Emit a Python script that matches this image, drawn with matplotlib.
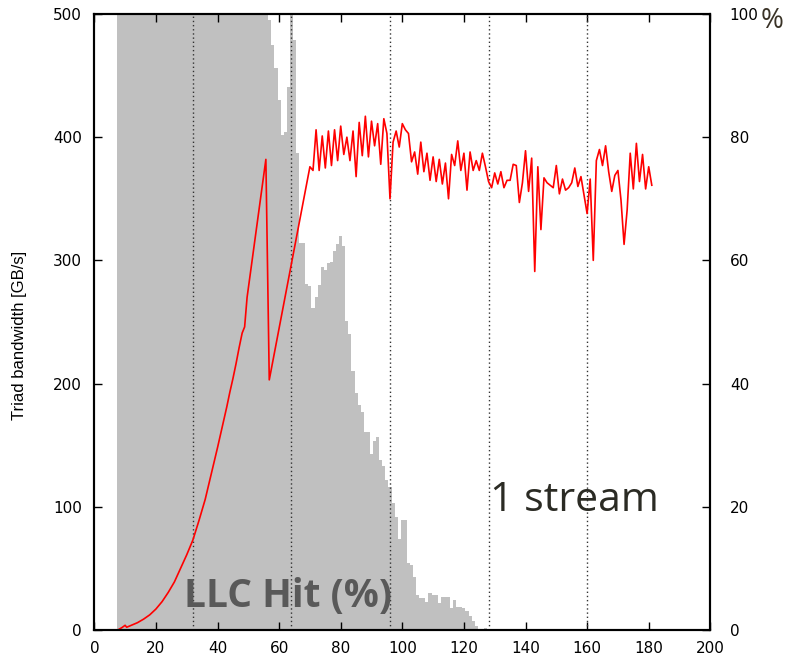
import numpy as np
import matplotlib
matplotlib.use("Agg")
import matplotlib.pyplot as plt

# histogram of LLC hit share (drawn on the bandwidth scale, clipped at the top)
hist_x = list(range(8, 128))
hist_full = [520] * (57 - 8)  # bins 8..56 run off the top
hist_tail = [495, 475, 456, 430, 402, 404, 441, 510, 479, 387,
             314, 314, 281, 279, 261, 270, 280, 295, 292, 298,
             299, 308, 313, 320, 312, 251, 240, 210, 192, 183,
             177, 161, 161, 143, 153, 157, 138, 133, 122, 116,
             103, 92, 74, 89, 89, 54, 53, 43, 28, 26,
             26, 23, 30, 28, 28, 22, 27, 27, 27, 18,
             24, 19, 19, 18, 15, 11, 7, 3, 0, 0, 1.5]
hist_y = hist_full + hist_tail

# triad bandwidth curve
head_x = [8, 9, 10, 10.5, 12, 14, 16, 18, 20, 22, 24, 26, 28, 30, 32, 34, 36, 38,
          40, 42, 43, 44, 45, 46, 47, 48, 48.8, 49.6, 55.7, 56.8]
head_y = [0.5, 2, 3.8, 2.2, 3.8, 5.9, 8.8, 12.3, 17, 23, 30.5, 39, 50, 61, 73, 89, 106, 127,
          148, 170, 181, 193, 204, 216, 229, 241, 246, 270, 382, 203]
tail_x = list(range(70, 182))
tail_y = [376, 373, 406, 373, 401, 375, 405, 377, 406, 381,
          409, 386, 400, 381, 405, 368, 412, 385, 417, 384,
          413, 393, 411, 378, 415, 403, 350, 396, 405, 392,
          411, 406, 403, 380, 388, 370, 396, 372, 387, 365,
          384, 364, 382, 362, 379, 350, 386, 377, 397, 373,
          387, 357, 388, 373, 381, 373, 387, 376, 364, 359,
          371, 362, 372, 359, 365, 365, 378, 377, 347, 363,
          389, 356, 383, 291, 376, 325, 367, 363, 361, 359,
          377, 354, 366, 357, 359, 363, 375, 360, 368, 353,
          338, 366, 300, 381, 390, 377, 393, 372, 356, 369,
          373, 349, 313, 341, 387, 358, 395, 364, 386, 358,
          376, 361]
bw_x = head_x + tail_x
bw_y = head_y + tail_y

vlines = [32, 64, 96, 128, 160]
x_ticks = list(range(0, 201, 20))
y_ticks = list(range(0, 501, 100))
pct_ticks = list(range(0, 101, 20))

plt.rcParams['font.family'] = ['DejaVu Sans']

fig = plt.figure(figsize=(7.86, 6.6), dpi=100)
ax = fig.add_axes([0.1200, 0.0455, 0.7837, 0.9333])

ax.bar(hist_x, hist_y, width=1.0, color='#c0c0c0', linewidth=0, zorder=1)
for v in vlines:
    ax.axvline(v, color='#333333', linestyle=(0, (1, 2)), linewidth=1.0, zorder=2)
ax.plot(bw_x, bw_y, color='red', linewidth=1.2, zorder=3)

ax.set_xlim(0, 200)
ax.set_ylim(0, 500)
ax.set_xticks(x_ticks)
ax.set_yticks(y_ticks)
ax.tick_params(axis='both', direction='in', length=6, width=1, labelsize=11)
ax.tick_params(axis='x', top=True, pad=8)
ax.tick_params(axis='y', pad=9)
ax.set_ylabel('Triad bandwidth [GB/s]', fontsize=12, family='Liberation Sans')
ax.yaxis.set_label_coords(-0.11, 0.478)
for s in ax.spines.values():
    s.set_linewidth(1.5)

ax2 = ax.twinx()
ax2.set_ylim(0, 100)
ax2.set_yticks(pct_ticks)
ax2.tick_params(axis='y', direction='in', length=6, width=1, labelsize=11, pad=14)
for s in ax2.spines.values():
    s.set_linewidth(1.5)

fig.text(0.982, 0.968, '%', fontsize=20, color='#3a3327', ha='center', va='center',
         family='Open Sans')

ax.text(62.9, 27, 'LLC Hit (%)', fontsize=28, fontweight='bold', color='#595959',
        ha='center', va='center', family='Open Sans', zorder=4)
ax.text(156, 105, '1 stream', fontsize=29.5, color='#2b2b24',
        ha='center', va='center', family='Open Sans', zorder=4)

fig.savefig('out.png', dpi=100)
